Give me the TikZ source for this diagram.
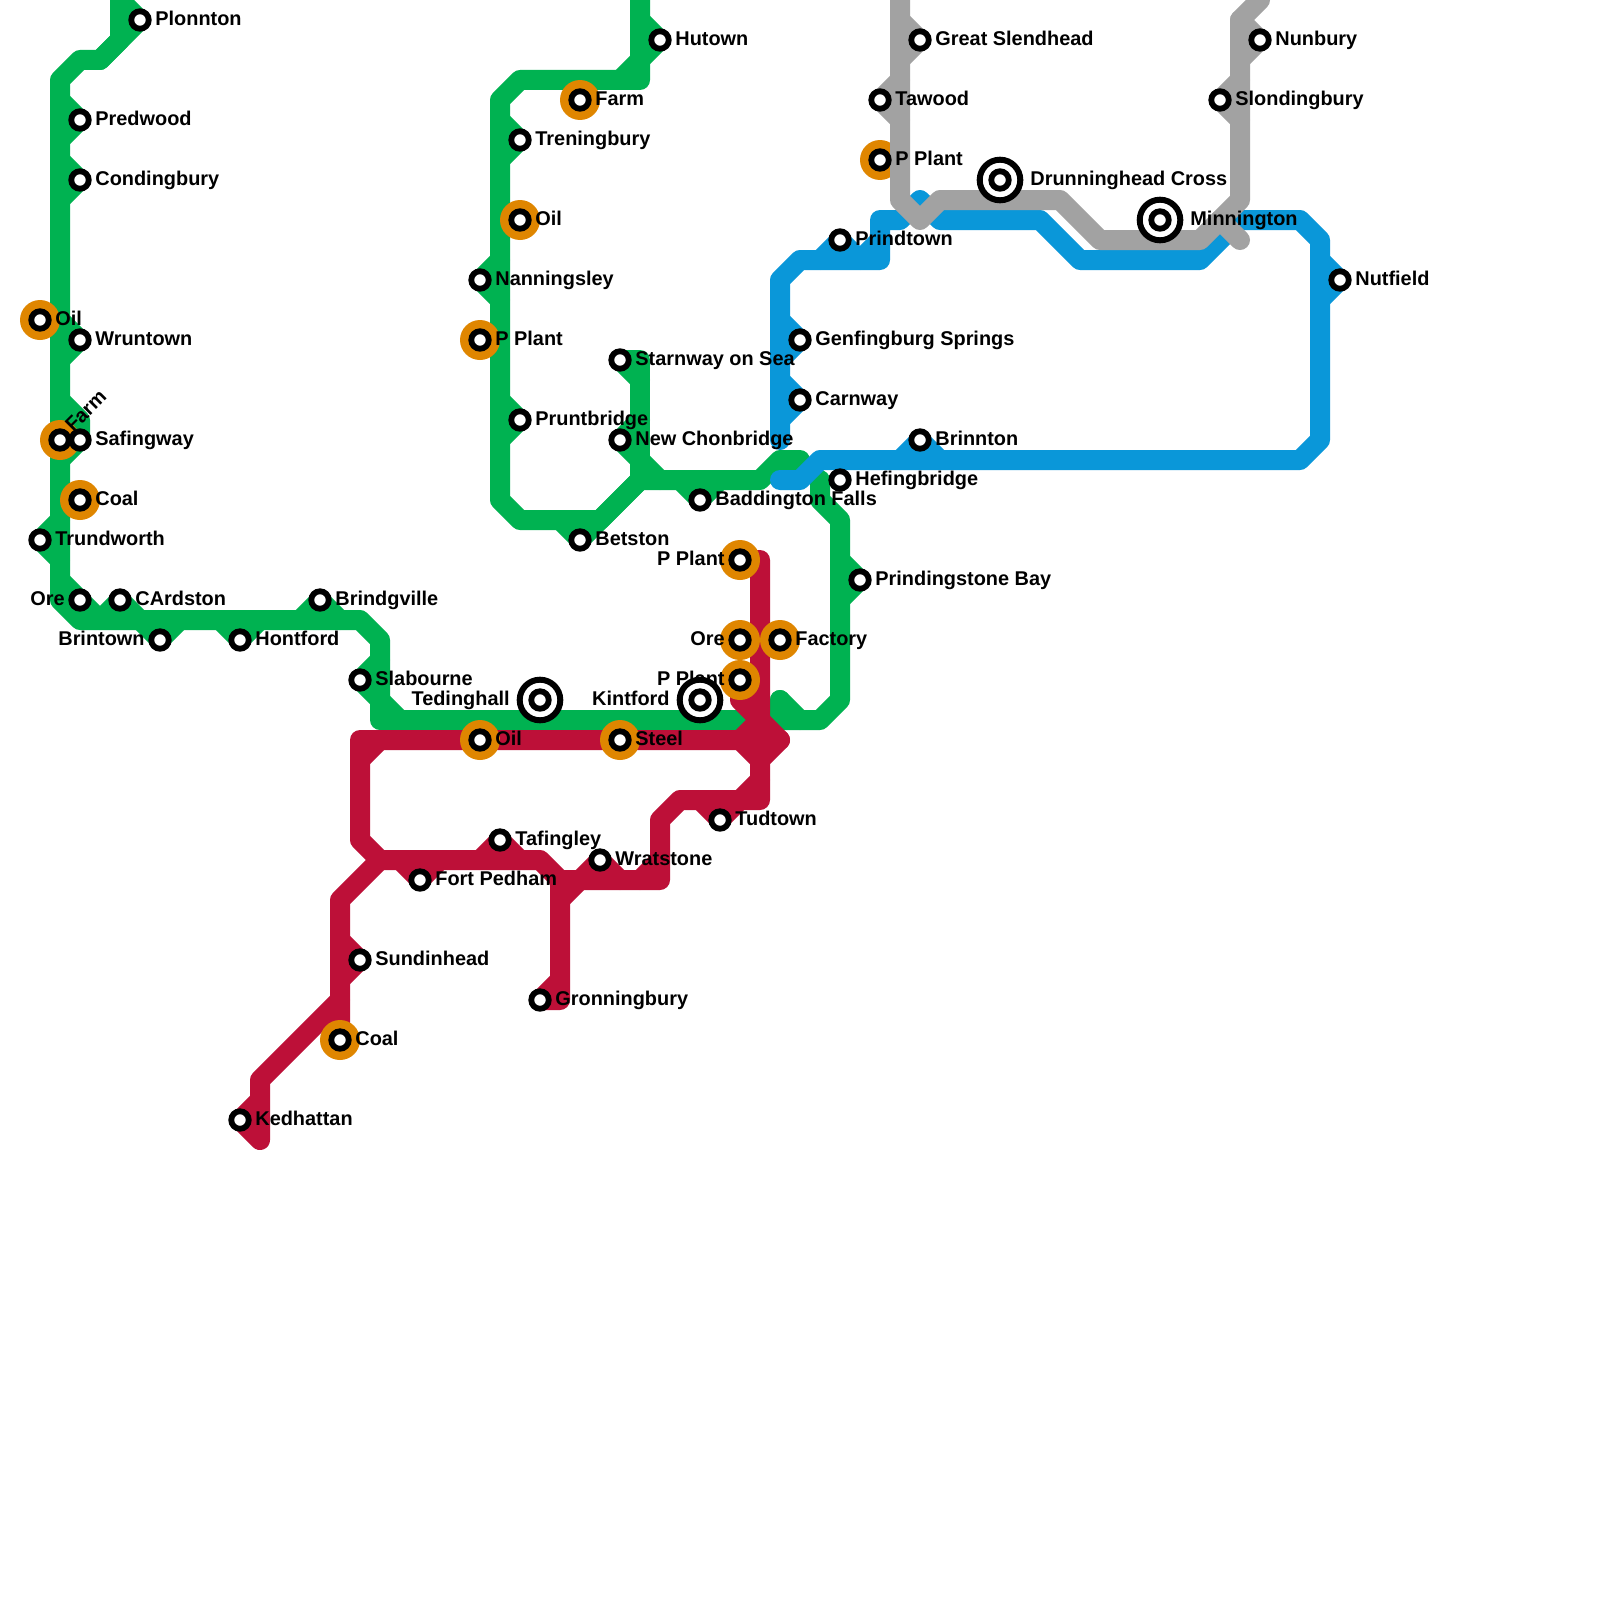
\documentclass[tikz,border=0pt]{standalone}
\usepackage{fontspec}
\setmainfont{Liberation Sans}
\definecolor{lgreen}{HTML}{00B251}
\definecolor{lred}{HTML}{BD1038}
\definecolor{lblue}{HTML}{0A97D9}
\definecolor{lgray}{HTML}{A2A2A2}
\definecolor{lorange}{HTML}{DF8600}
\tikzset{
  ln/.style={line width=10pt,line cap=round,line join=round},
  gl/.style={ln,draw=lgreen},
  rl/.style={ln,draw=lred},
  bl/.style={ln,draw=lblue},
  al/.style={ln,draw=lgray},
  orangedisc/.style={circle,fill=lorange,minimum size=20pt,inner sep=0pt,outer sep=0pt},
  stn/.style={circle,draw=black,fill=white,line width=2.9pt,minimum size=8.75pt,inner sep=0pt,outer sep=0pt},
  hub/.style={circle,draw=black,fill=white,line width=3pt,minimum size=20.3pt,inner sep=0pt,outer sep=0pt},
  labr/.style={anchor=base west,font=\bfseries\fontsize{9.95}{12}\selectfont,inner sep=0pt,xshift=7.5pt,yshift=-2.7pt},
  labl/.style={anchor=base east,font=\bfseries\fontsize{9.95}{12}\selectfont,inner sep=0pt,xshift=-7.5pt,yshift=-2.7pt},
  hubr/.style={labr,xshift=7.5pt},
  hubl/.style={labl,xshift=-7.5pt},
}
\begin{document}
\begin{tikzpicture}[x=0.5pt,y=-0.5pt]
\useasboundingbox[fill=white] (0,0) rectangle (1600,1600);
% stations
\coordinate (plonnton) at (140,20);
\coordinate (predwood) at (80,120);
\coordinate (condingbury) at (80,180);
\coordinate (oilA) at (40,320);
\coordinate (wruntown) at (80,340);
\coordinate (farmA) at (60,440);
\coordinate (safingway) at (80,440);
\coordinate (coalA) at (80,500);
\coordinate (trundworth) at (40,540);
\coordinate (oreA) at (80,600);
\coordinate (cardston) at (120,600);
\coordinate (brintown) at (160,640);
\coordinate (hontford) at (240,640);
\coordinate (brindgville) at (320,600);
\coordinate (slabourne) at (360,680);
\coordinate (tedinghall) at (540,700);
\coordinate (kintford) at (700,700);
\coordinate (oilB) at (480,740);
\coordinate (steel) at (620,740);
\coordinate (hutown) at (660,40);
\coordinate (farmB) at (580,100);
\coordinate (treningbury) at (520,140);
\coordinate (oilC) at (520,220);
\coordinate (nanningsley) at (480,280);
\coordinate (pplantA) at (480,340);
\coordinate (starnway) at (620,360);
\coordinate (pruntbridge) at (520,420);
\coordinate (chonbridge) at (620,440);
\coordinate (baddington) at (700,500);
\coordinate (betston) at (580,540);
\coordinate (pplantB) at (740,560);
\coordinate (oreB) at (740,640);
\coordinate (factory) at (780,640);
\coordinate (pplantC) at (740,680);
\coordinate (prindingstone) at (860,580);
\coordinate (tudtown) at (720,820);
\coordinate (tafingley) at (500,840);
\coordinate (wratstone) at (600,860);
\coordinate (fortpedham) at (420,880);
\coordinate (sundinhead) at (360,960);
\coordinate (gronningbury) at (540,1000);
\coordinate (coalB) at (340,1040);
\coordinate (kedhattan) at (240,1120);
\coordinate (prindtown) at (840,240);
\coordinate (genfingburg) at (800,340);
\coordinate (carnway) at (800,400);
\coordinate (brinnton) at (920,440);
\coordinate (hefingbridge) at (840,480);
\coordinate (nutfield) at (1340,280);
\coordinate (greatslendhead) at (920,40);
\coordinate (tawood) at (880,100);
\coordinate (pplantD) at (880,160);
\coordinate (drunninghead) at (1000,180);
\coordinate (minnington) at (1160,220);
\coordinate (nunbury) at (1260,40);
\coordinate (slondingbury) at (1220,100);
% green
\draw[gl] (120,-20)--(120,40)--(100,60)--(80,60)--(60,80)--(60,600)--(80,620)--(360,620)--(380,640)--(380,720)--(820,720)--(840,700)--(840,520)--(820,500)--(820,480);
\draw[gl] (120,0)--(plonnton)--(100,60);
\draw[gl] (60,100)--(predwood)--(60,140);
\draw[gl] (60,160)--(condingbury)--(60,200);
\draw[gl] (60,320)--(wruntown)--(60,360);
\draw[gl] (60,400)--(80,420)--(safingway)--(60,460);
\draw[gl] (60,520)--(trundworth)--(60,560);
\draw[gl] (60,580)--(oreA)--(100,620)--(cardston)--(140,620)--(brintown)--(180,620);
\draw[gl] (220,620)--(hontford)--(260,620);
\draw[gl] (300,620)--(brindgville)--(340,620);
\draw[gl] (380,660)--(slabourne)--(380,700)--(400,720);
\draw[gl] (780,700)--(780,720);
\draw[gl] (780,700)--(800,720);
\draw[gl] (640,-20)--(640,80)--(520,80)--(500,100)--(500,500)--(520,520)--(600,520)--(640,480);
\draw[gl] (620,80)--(640,60);
\draw[gl] (640,20)--(hutown)--(640,60);
\draw[gl] (500,120)--(treningbury)--(500,160);
\draw[gl] (500,260)--(nanningsley)--(500,300);
\draw[gl] (500,400)--(pruntbridge)--(500,440);
\draw[gl] (560,520)--(betston)--(640,480);
\draw[gl] (starnway)--(640,360)--(640,480);
\draw[gl] (starnway)--(640,380);
\draw[gl] (640,420)--(chonbridge)--(640,460)--(660,480);
\draw[gl] (640,480)--(760,480)--(780,460)--(800,460);
\draw[gl] (680,480)--(baddington)--(720,480);
\draw[gl] (840,560)--(prindingstone)--(840,600);
% red
\draw[rl] (pplantB)--(760,560)--(760,800)--(680,800)--(660,820)--(660,880)--(560,880)--(540,860)--(380,860)--(360,840)--(360,740)--(780,740)--(760,760);
\draw[rl] (360,760)--(380,740);
\draw[rl] (pplantC)--(740,700)--(780,740);
\draw[rl] (740,740)--(760,760);
\draw[rl] (740,740)--(760,720);
\draw[rl] (760,780)--(740,800);
\draw[rl] (700,800)--(tudtown)--(740,800);
\draw[rl] (640,880)--(660,860);
\draw[rl] (580,880)--(wratstone)--(620,880);
\draw[rl] (480,860)--(tafingley)--(520,860);
\draw[rl] (400,860)--(fortpedham)--(440,860);
\draw[rl] (560,880)--(560,1000)--(gronningbury)--(560,980);
\draw[rl] (560,900)--(580,880);
\draw[rl] (380,860)--(340,900)--(coalB);
\draw[rl] (340,940)--(sundinhead)--(340,980);
\draw[rl] (340,1000)--(260,1080)--(260,1140)--(kedhattan)--(260,1100);
% blue
\draw[bl] (780,440)--(780,280)--(800,260)--(880,260)--(880,220)--(900,220)--(920,200)--(940,220)--(1040,220)--(1080,260)--(1200,260)--(1240,220)--(1300,220)--(1320,240)--(1320,440)--(1300,460)--(820,460)--(800,480)--(780,480);
\draw[bl] (780,320)--(genfingburg)--(780,360);
\draw[bl] (780,380)--(carnway)--(780,420);
\draw[bl] (820,260)--(prindtown)--(860,260)--(880,240);
\draw[bl] (1320,260)--(nutfield)--(1320,300);
\draw[bl] (900,460)--(brinnton)--(940,460);
% interchange discs
\foreach \s in {oilA,farmA,coalA,oilB,steel,farmB,oilC,pplantA,pplantB,oreB,factory,pplantC,coalB,pplantD}
  \node[orangedisc] (disc-\s) at (\s) {};
% gray
\draw[al] (900,-20)--(900,200)--(920,220)--(940,200)--(1060,200)--(1100,240)--(1200,240)--(1240,200)--(1240,20)--(1260,0);
\draw[al] (1220,220)--(1240,240);
\draw[al] (900,20)--(greatslendhead)--(900,60);
\draw[al] (900,80)--(tawood)--(900,120);
\draw[al] (1240,20)--(nunbury)--(1240,60);
\draw[al] (1240,80)--(slondingbury)--(1240,120);
% labels
\node[labr] (t-plonnton) at (plonnton) {Plonnton};
\node[labr] (t-predwood) at (predwood) {Predwood};
\node[labr] (t-condingbury) at (condingbury) {Condingbury};
\node[labr] (t-oila) at (oilA) {Oil};
\node[labr] (t-wruntown) at (wruntown) {Wruntown};
\node[anchor=base west,font=\bfseries\fontsize{9.95}{12}\selectfont,inner sep=0pt,rotate=45] (t-farma) at (73,433) {Farm};
\node[labr] (t-safingway) at (safingway) {Safingway};
\node[labr] (t-coala) at (coalA) {Coal};
\node[labr] (t-trundworth) at (trundworth) {Trundworth};
\node[labl] (t-orea) at (oreA) {Ore};
\node[labr] (t-cardston) at (cardston) {CArdston};
\node[labl] (t-brintown) at (brintown) {Brintown};
\node[labr] (t-hontford) at (hontford) {Hontford};
\node[labr] (t-brindgville) at (brindgville) {Brindgville};
\node[labr] (t-slabourne) at (slabourne) {Slabourne};
\node[hubl] (t-tedinghall) at (tedinghall) {Tedinghall};
\node[hubl] (t-kintford) at (kintford) {Kintford};
\node[labr] (t-oilb) at (oilB) {Oil};
\node[labr] (t-steel) at (steel) {Steel};
\node[labr] (t-hutown) at (hutown) {Hutown};
\node[labr] (t-farmb) at (farmB) {Farm};
\node[labr] (t-treningbury) at (treningbury) {Treningbury};
\node[labr] (t-oilc) at (oilC) {Oil};
\node[labr] (t-nanningsley) at (nanningsley) {Nanningsley};
\node[labr] (t-pplanta) at (pplantA) {P Plant};
\node[labr] (t-starnway) at (starnway) {Starnway on Sea};
\node[labr] (t-pruntbridge) at (pruntbridge) {Pruntbridge};
\node[labr] (t-chonbridge) at (chonbridge) {New Chonbridge};
\node[labr] (t-baddington) at (baddington) {Baddington Falls};
\node[labr] (t-betston) at (betston) {Betston};
\node[labl] (t-pplantb) at (pplantB) {P Plant};
\node[labl] (t-oreb) at (oreB) {Ore};
\node[labr] (t-factory) at (factory) {Factory};
\node[labl] (t-pplantc) at (pplantC) {P Plant};
\node[labr] (t-prindingstone) at (prindingstone) {Prindingstone Bay};
\node[labr] (t-tudtown) at (tudtown) {Tudtown};
\node[labr] (t-tafingley) at (tafingley) {Tafingley};
\node[labr] (t-wratstone) at (wratstone) {Wratstone};
\node[labr] (t-fortpedham) at (fortpedham) {Fort Pedham};
\node[labr] (t-sundinhead) at (sundinhead) {Sundinhead};
\node[labr] (t-gronningbury) at (gronningbury) {Gronningbury};
\node[labr] (t-coalb) at (coalB) {Coal};
\node[labr] (t-kedhattan) at (kedhattan) {Kedhattan};
\node[labr] (t-prindtown) at (prindtown) {Prindtown};
\node[labr] (t-genfingburg) at (genfingburg) {Genfingburg Springs};
\node[labr] (t-carnway) at (carnway) {Carnway};
\node[labr] (t-brinnton) at (brinnton) {Brinnton};
\node[labr] (t-hefingbridge) at (hefingbridge) {Hefingbridge};
\node[labr] (t-nutfield) at (nutfield) {Nutfield};
\node[labr] (t-greatslendhead) at (greatslendhead) {Great Slendhead};
\node[labr] (t-tawood) at (tawood) {Tawood};
\node[labr] (t-pplantd) at (pplantD) {P Plant};
\node[hubr] (t-drunninghead) at (drunninghead) {Drunninghead Cross};
\node[hubr] (t-minnington) at (minnington) {Minnington};
\node[labr] (t-nunbury) at (nunbury) {Nunbury};
\node[labr] (t-slondingbury) at (slondingbury) {Slondingbury};
% hub rings
\foreach \s in {tedinghall,kintford,drunninghead,minnington}
  \node[hub] (hub-\s) at (\s) {};
% station markers
\foreach \s in {plonnton,predwood,condingbury,oilA,wruntown,farmA,safingway,coalA,trundworth,oreA,cardston,brintown,hontford,brindgville,slabourne,tedinghall,kintford,oilB,steel,hutown,farmB,treningbury,oilC,nanningsley,pplantA,starnway,pruntbridge,chonbridge,baddington,betston,pplantB,oreB,factory,pplantC,prindingstone,tudtown,tafingley,wratstone,fortpedham,sundinhead,gronningbury,coalB,kedhattan,prindtown,genfingburg,carnway,brinnton,hefingbridge,nutfield,greatslendhead,tawood,pplantD,drunninghead,minnington,nunbury,slondingbury}
  \node[stn] (mark-\s) at (\s) {};
\end{tikzpicture}
\end{document}
